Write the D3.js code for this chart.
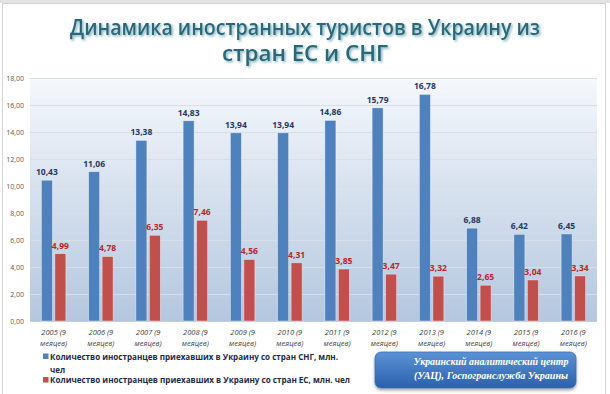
<!DOCTYPE html>
<html>
<head>
<meta charset="utf-8">
<script src="https://cdnjs.cloudflare.com/ajax/libs/d3/7.8.5/d3.min.js"></script>
<style>
  html, body { margin: 0; padding: 0; background: #ffffff; }
  svg { display: block; }
</style>
</head>
<body>
<div id="chart"></div>
<script>
// data
var years = ["2005", "2006", "2007", "2008", "2009", "2010", "2011", "2012", "2013", "2014", "2015", "2016"];
var cisValues = [10.43, 11.06, 13.38, 14.83, 13.94, 13.94, 14.86, 15.79, 16.78, 6.88, 6.42, 6.45];
var euValues = [4.99, 4.78, 6.35, 7.46, 4.56, 4.31, 3.85, 3.47, 3.32, 2.65, 3.04, 3.34];
var yTicks = [0, 2, 4, 6, 8, 10, 12, 14, 16, 18];
var seriesKeys = ["cis", "eu"];
var legendLabels = ["Количество иностранцев приехавших в Украину со стран СНГ, млн.",
                    "Количество иностранцев приехавших в Украину со стран ЕС, млн. чел"];

var width = 610, height = 394;
var plotLeft = 30, plotRight = 597, plotTop = 78, plotBottom = 321;
var blue = "#4f81bd", red = "#c0504d";

var svg = d3.select("#chart").append("svg")
    .attr("width", width).attr("height", height);

var defs = svg.append("defs");

var bg = defs.append("linearGradient").attr("id", "plotbg")
    .attr("x1", 0).attr("y1", 0).attr("x2", 0).attr("y2", 1);
bg.append("stop").attr("offset", "0%").attr("stop-color", "#f5f8fc");
bg.append("stop").attr("offset", "100%").attr("stop-color", "#b4c7df");

var boxg = defs.append("linearGradient").attr("id", "boxbg")
    .attr("x1", 0).attr("y1", 0).attr("x2", 0).attr("y2", 1);
boxg.append("stop").attr("offset", "0%").attr("stop-color", "#5b93d6");
boxg.append("stop").attr("offset", "100%").attr("stop-color", "#2b60ab");

var tshadow = defs.append("filter").attr("id", "tshadow")
    .attr("x", "-5%").attr("y", "-20%").attr("width", "110%").attr("height", "150%");
tshadow.append("feDropShadow").attr("dx", 1.5).attr("dy", 1.5).attr("stdDeviation", 0.8)
    .attr("flood-color", "#7fb3c6").attr("flood-opacity", 1);

var bshadow = defs.append("filter").attr("id", "bshadow")
    .attr("x", "-10%").attr("y", "-20%").attr("width", "120%").attr("height", "160%");
bshadow.append("feDropShadow").attr("dx", 0).attr("dy", 2).attr("stdDeviation", 1.6)
    .attr("flood-color", "#000000").attr("flood-opacity", 0.35);

// outer frame
svg.append("rect").attr("x", 0).attr("y", 0).attr("width", width).attr("height", 3).attr("fill", "#e3e3e3");
svg.append("rect").attr("x", 2.5).attr("y", 3.5).attr("width", 603).attr("height", 400)
    .attr("fill", "none").attr("stroke", "#d4d4d4");

// title
var title = svg.append("g").attr("filter", "url(#tshadow)")
    .style("font-family", "'Open Sans', 'Noto Sans', sans-serif")
    .style("font-size", "21px").style("font-weight", "600")
    .attr("fill", "#2a6878").attr("text-anchor", "middle");
title.append("text").attr("x", 305).attr("y", 35)
    .attr("textLength", 470).attr("lengthAdjust", "spacingAndGlyphs")
    .text("Динамика иностранных туристов в Украину из");
title.append("text").attr("x", 305).attr("y", 61)
    .attr("textLength", 166).attr("lengthAdjust", "spacingAndGlyphs")
    .text("стран ЕС и СНГ");

// scales
var x0 = d3.scaleBand().domain(years).range([plotLeft, plotRight]);
var x1 = d3.scaleBand().domain(seriesKeys).range([0, x0.bandwidth()])
    .paddingInner(0.185).paddingOuter(0.843);
var y = d3.scaleLinear().domain([0, 18]).range([plotBottom, plotTop]);

svg.append("rect").attr("x", plotLeft).attr("y", plotTop)
    .attr("width", plotRight - plotLeft).attr("height", plotBottom - plotTop)
    .attr("fill", "url(#plotbg)");

// grid + y labels
var yAxis = d3.axisLeft(y).tickValues(yTicks)
    .tickFormat(function(d) { return d3.format(".2f")(d).replace(".", ","); })
    .tickSize(-(plotRight - plotLeft)).tickPadding(6);
var gy = svg.append("g").attr("transform", "translate(" + plotLeft + ",0)").call(yAxis);
gy.select(".domain").remove();
gy.selectAll(".tick line").attr("stroke", "#d9dee6").attr("stroke-width", 1);
gy.selectAll(".tick text").attr("fill", "#595959")
    .style("font-family", "'Open Sans', 'Noto Sans', sans-serif").style("font-size", "7px");

svg.append("line").attr("x1", plotLeft).attr("x2", plotRight)
    .attr("y1", plotBottom + 0.5).attr("y2", plotBottom + 0.5).attr("stroke", "#c4ccd8");

// bars
var rows = years.map(function(yr, i) { return { year: yr, cis: cisValues[i], eu: euValues[i] }; });

var groups = svg.selectAll(".grp").data(rows).enter().append("g")
    .attr("class", "grp")
    .attr("transform", function(d) { return "translate(" + x0(d.year) + ",0)"; });

groups.selectAll("rect").data(function(d) {
        return seriesKeys.map(function(k) { return { key: k, value: d[k] }; });
    }).enter().append("rect")
    .attr("x", function(d) { return x1(d.key); })
    .attr("width", x1.bandwidth())
    .attr("y", function(d) { return y(d.value); })
    .attr("height", function(d) { return plotBottom - y(d.value); })
    .attr("fill", function(d) { return d.key == "cis" ? blue : red; })
    .attr("stroke", "rgba(255,255,255,0.55)").attr("stroke-width", 0.7);

groups.selectAll(".lbl").data(function(d) {
        return seriesKeys.map(function(k) { return { key: k, value: d[k] }; });
    }).enter().append("text")
    .attr("class", "lbl")
    .attr("x", function(d) { return x1(d.key) + x1.bandwidth() / 2; })
    .attr("y", function(d) { return y(d.value) - 5; })
    .attr("text-anchor", "middle")
    .attr("fill", function(d) { return d.key == "cis" ? "#1f3864" : "#b8262b"; })
    .style("font-family", "'Open Sans', 'Noto Sans', sans-serif")
    .style("font-size", "8.5px").style("font-weight", "bold")
    .text(function(d) { return d3.format(".2f")(d.value).replace(".", ","); });

// x labels
var xl = svg.selectAll(".xl").data(years).enter().append("text")
    .attr("class", "xl")
    .attr("text-anchor", "middle")
    .attr("fill", "#404040")
    .style("font-family", "'Open Sans', 'Noto Sans', sans-serif")
    .style("font-size", "7.5px").style("font-style", "italic");
xl.append("tspan").attr("x", function(d) { return x0(d) + x0.bandwidth() / 2; })
    .attr("y", 335).text(function(d) { return d + " (9"; });
xl.append("tspan").attr("x", function(d) { return x0(d) + x0.bandwidth() / 2; })
    .attr("y", 346).text("меяцев)");

// legend
var legend = svg.append("g")
    .style("font-family", "'Open Sans', 'Noto Sans', sans-serif")
    .style("font-size", "8px").style("font-weight", "bold").attr("fill", "#1c2a48");
legend.append("rect").attr("x", 43).attr("y", 353.5).attr("width", 5.5).attr("height", 5.5).attr("fill", blue);
legend.append("text").attr("x", 50).attr("y", 359.5)
    .attr("textLength", 288).attr("lengthAdjust", "spacingAndGlyphs").text(legendLabels[0]);
legend.append("text").attr("x", 50).attr("y", 373).text("чел");
legend.append("rect").attr("x", 43).attr("y", 377).attr("width", 5.5).attr("height", 5.5).attr("fill", red);
legend.append("text").attr("x", 50).attr("y", 383)
    .attr("textLength", 300).attr("lengthAdjust", "spacingAndGlyphs").text(legendLabels[1]);

// source box
svg.append("rect").attr("x", 375).attr("y", 352).attr("width", 201).attr("height", 36)
    .attr("rx", 6).attr("fill", "url(#boxbg)").attr("filter", "url(#bshadow)")
    .attr("stroke", "#3a6db5").attr("stroke-width", 0.8);
var src = svg.append("g").attr("fill", "#ffffff").attr("text-anchor", "middle")
    .style("font-family", "'Liberation Serif', 'DejaVu Serif', serif")
    .style("font-size", "10px").style("font-style", "italic").style("font-weight", "bold");
src.append("text").attr("x", 491).attr("y", 365)
    .attr("textLength", 155).attr("lengthAdjust", "spacingAndGlyphs").text("Украинский аналитический центр");
src.append("text").attr("x", 491).attr("y", 379)
    .attr("textLength", 154).attr("lengthAdjust", "spacingAndGlyphs").text("(УАЦ), Госпогранслужба Украины");
</script>
</body>
</html>
